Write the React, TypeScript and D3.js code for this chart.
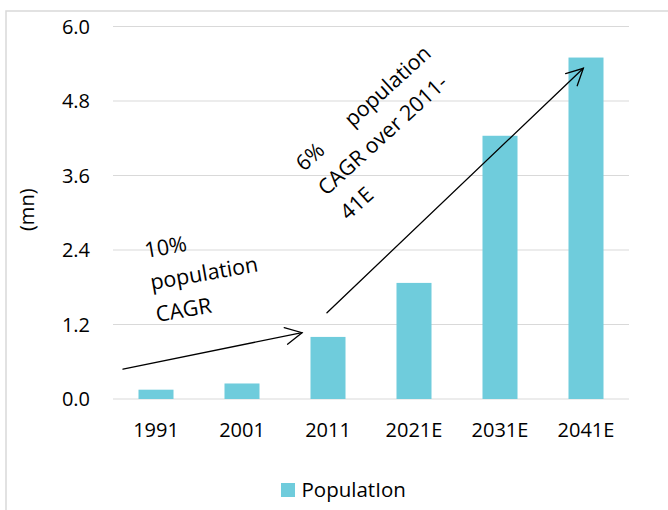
import React from "react";
import * as d3 from "d3";

const categories = ["1991", "2001", "2011", "2021E", "2031E", "2041E"];
const population = [0.15, 0.25, 1.0, 1.87, 4.24, 5.5];
const yTicks = [0, 1.2, 2.4, 3.6, 4.8, 6.0];
const seriesName = "PopulatIon";
const axisTitle = "(mn)";

// Growth callouts: lines of text, anchored in (category-index, value) space
const noteEarly = ["10%", "population", "CAGR"];
const noteLate = [["6%", "population"], ["CAGR over 2011-"], ["41E"]];

const W = 668;
const H = 510;
const FONT = "'Open Sans', 'Noto Sans', sans-serif";
const BAR = "#6FCCDC";
const GRID = "#D9D9D9";

export default function App() {
  const plot = { left: 113, right: 629, top: 26.5, bottom: 399 };

  const x = d3
    .scaleBand<string>()
    .domain(categories)
    .range([plot.left, plot.right])
    .paddingInner(0.593)
    .paddingOuter(0.593 / 2);

  const y = d3.scaleLinear().domain([0, 6]).range([plot.bottom, plot.top]);

  // continuous position along the category axis (0 = left edge, 6 = right edge)
  const u = d3
    .scaleLinear()
    .domain([0, categories.length])
    .range([plot.left, plot.right]);
  const at = (i: number, v: number): [number, number] => [u(i), y(v)];

  const arrow = (from: [number, number], to: [number, number]) => {
    const ang = Math.atan2(to[1] - from[1], to[0] - from[0]);
    const len = 18.5;
    const spread = (27 * Math.PI) / 180;
    const b1: [number, number] = [
      to[0] - len * Math.cos(ang - spread),
      to[1] - len * Math.sin(ang - spread),
    ];
    const b2: [number, number] = [
      to[0] - len * Math.cos(ang + spread),
      to[1] - len * Math.sin(ang + spread),
    ];
    const line = d3.line();
    return (
      <g fill="none" stroke="#000" strokeWidth={1.3} strokeLinecap="round">
        <path d={line([from, to]) || ""} />
        <path d={line([b1, to, b2]) || ""} />
      </g>
    );
  };

  const a1From = at(0.116, 0.483);
  const a1To = at(2.198, 1.068);
  const a2From = at(2.488, 1.39);
  const a2To = at(5.469, 5.327);

  const n1 = at(0.384, 2.27);
  const n2 = at(2.22, 3.655);

  return (
    <svg
      width={W}
      height={H}
      style={{ position: "absolute", left: 0, top: 0, display: "block" }}
      fontFamily={FONT}
    >
      <rect x={0} y={0} width={W} height={H} fill="#fff" />
      {/* chart frame */}
      <rect x={6} y={11} width={W + 40} height={H + 40} fill="none" stroke={GRID} strokeWidth={1.5} />

      {/* gridlines */}
      {yTicks.map((t) => (
        <line
          key={t}
          x1={plot.left}
          x2={plot.right}
          y1={y(t)}
          y2={y(t)}
          stroke={GRID}
          strokeWidth={1.2}
        />
      ))}

      {/* y tick labels */}
      {yTicks.map((t) => (
        <text
          key={"l" + t}
          x={90}
          y={y(t)}
          dy="0.36em"
          textAnchor="end"
          fontSize={20}
          fill="#000"
        >
          {t.toFixed(1)}
        </text>
      ))}

      <text
        transform={`translate(34, ${(plot.top + plot.bottom) / 2 - 3}) rotate(-90)`}
        textAnchor="middle"
        fontSize={20}
        fill="#000"
      >
        {axisTitle}
      </text>

      {/* bars */}
      {categories.map((c, i) => (
        <rect
          key={c}
          x={x(c)}
          y={y(population[i])}
          width={x.bandwidth()}
          height={y(0) - y(population[i])}
          fill={BAR}
        />
      ))}

      {/* x tick labels */}
      {categories.map((c) => (
        <text
          key={"x" + c}
          x={(x(c) || 0) + x.bandwidth() / 2}
          y={436.5}
          textAnchor="middle"
          fontSize={20}
          fill="#000"
        >
          {c}
        </text>
      ))}

      {/* growth arrows */}
      {arrow(a1From, a1To)}
      {arrow(a2From, a2To)}

      {/* callout text */}
      <g transform={`translate(${n1[0]}, ${n1[1]}) rotate(-10)`} fontSize={21.5} fill="#000">
        {noteEarly.map((s, i) => (
          <text key={s} x={0} y={i * 32.5}>
            {s}
          </text>
        ))}
      </g>
      <g transform={`translate(${n2[0]}, ${n2[1]}) rotate(-42.3)`} fontSize={21.3} fill="#000">
        {noteLate.map((parts, i) => (
          <text key={i} x={0} y={i * 33}>
            {parts.map((p, j) => (
              <tspan key={j} dx={j > 0 ? 36 : 0}>
                {p}
              </tspan>
            ))}
          </text>
        ))}
      </g>

      {/* legend */}
      <rect x={281} y={483} width={14} height={14} fill={BAR} />
      <text x={301.5} y={496.5} fontSize={20.5} fill="#000">
        {seriesName}
      </text>
    </svg>
  );
}
